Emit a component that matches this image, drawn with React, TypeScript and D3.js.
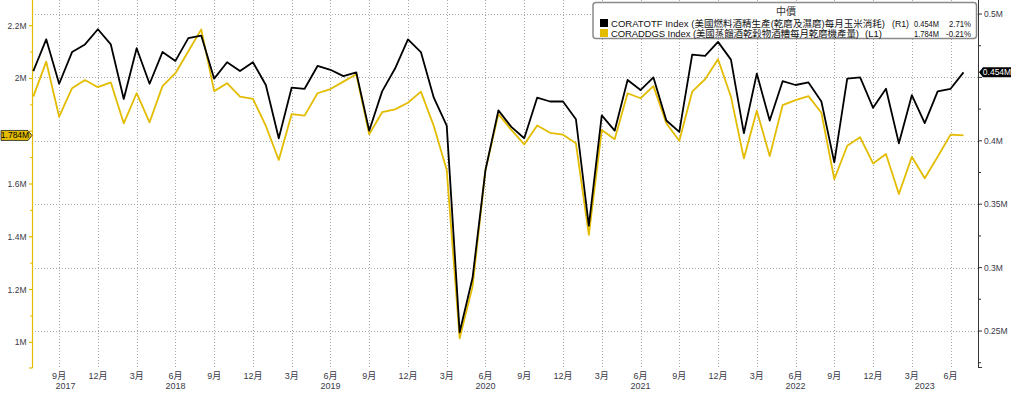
import React from "react";
import * as d3 from "d3";

// monthly, Jul 2017 .. Jul 2023
const startYear = 2017;
const startMonth = 6; // July (0-based)

// CORATOTF Index, right axis (millions)
const cornUse = [
  0.455, 0.480, 0.445, 0.470, 0.476, 0.488, 0.476, 0.433, 0.473, 0.445, 0.470, 0.463,
  0.481, 0.483, 0.449, 0.462, 0.455, 0.462, 0.444, 0.402, 0.442, 0.441, 0.459, 0.456,
  0.451, 0.454, 0.408, 0.439, 0.457, 0.480, 0.470, 0.434, 0.412, 0.249, 0.292, 0.377,
  0.424, 0.411, 0.402, 0.434, 0.431, 0.431, 0.417, 0.333, 0.420, 0.408, 0.448, 0.440,
  0.450, 0.416, 0.407, 0.468, 0.467, 0.478, 0.464, 0.406, 0.453, 0.416, 0.447, 0.444,
  0.446, 0.431, 0.383, 0.449, 0.450, 0.426, 0.441, 0.398, 0.436, 0.414, 0.439, 0.441,
  0.454,
];

// CORADDGS Index, left axis (millions)
const ddgs = [
  1.931, 2.064, 1.855, 1.963, 1.994, 1.967, 1.985, 1.830, 1.944, 1.834, 1.971, 2.020,
  2.103, 2.186, 1.952, 1.982, 1.931, 1.923, 1.820, 1.691, 1.865, 1.859, 1.944, 1.960,
  1.988, 2.016, 1.788, 1.872, 1.883, 1.908, 1.950, 1.820, 1.653, 1.015, 1.211, 1.653,
  1.865, 1.805, 1.750, 1.822, 1.794, 1.787, 1.754, 1.407, 1.805, 1.770, 1.944, 1.925,
  1.971, 1.830, 1.764, 1.950, 1.997, 2.073, 1.931, 1.697, 1.878, 1.706, 1.899, 1.918,
  1.933, 1.870, 1.618, 1.745, 1.777, 1.678, 1.714, 1.562, 1.703, 1.622, 1.703, 1.787,
  1.784,
];

const leftTicks = [1, 1.2, 1.4, 1.6, 1.8, 2, 2.2];
const leftMinor = [1.1, 1.3, 1.5, 1.7, 1.9, 2.1];
const rightTicks = [0.25, 0.3, 0.35, 0.4, 0.45, 0.5];
const rightMinor = [0.225, 0.275, 0.325, 0.375, 0.425, 0.475];
const tickMonths = [2, 5, 8, 11]; // Mar, Jun, Sep, Dec
const years = [2017, 2018, 2019, 2020, 2021, 2022, 2023];

const legendTitle = "中價";
const legendNames = [
  "CORATOTF Index (美國燃料酒精生產(乾磨及濕磨)每月玉米消耗)",
  "CORADDGS Index (美國蒸餾酒乾穀物酒糟每月乾磨機產量)",
];
const legendAxis = ["(R1)", "(L1)"];
const legendLast = ["0.454M", "1.784M"];
const legendChg = ["2.71%", "-0.21%"];

const YELLOW = "#e3bc00";
const FONT = "'Liberation Sans', 'Noto Sans CJK TC', sans-serif";

export default function App() {
  const width = 1011;
  const height = 393;
  const plotTop = 0;
  const plotBottom = 368;
  const leftX = 32;
  const rightX = 978;

  const n = cornUse.length;
  const x = d3.scaleLinear().domain([0, n - 1]).range([33.3, 963.5]);
  const yL = d3.scaleLinear().domain([1, 2.2]).range([342.3, 25.7]);
  const yR = d3.scaleLinear().domain([0.25, 0.5]).range([331, 14]);

  const lineL = d3.line<number>().x((_, i) => x(i)).y((d) => yL(d));
  const lineR = d3.line<number>().x((_, i) => x(i)).y((d) => yR(d));

  const monthOf = (i: number) => (startMonth + i) % 12;
  const yearOf = (i: number) => startYear + Math.floor((startMonth + i) / 12);
  const idx = d3.range(n);
  const ticks = idx.filter((i) => tickMonths.includes(monthOf(i)));

  const yearPos = years.map((yr) => {
    const inYear = idx.filter((i) => yearOf(i) === yr);
    const first = inYear[0];
    const last = inYear[inYear.length - 1];
    const pos = inYear.length === 12 ? first + 5 : (first + last) / 2;
    return { yr, pos };
  });

  const fmtL = (v: number) => (v === 1 || v === 2 ? `${v}M` : `${v.toFixed(1)}M`);
  const fmtR = (v: number) => `${+v.toFixed(2)}M`;

  const lastL = ddgs[n - 1];
  const lastR = cornUse[n - 1];
  const tagLy = yL(lastL);
  const tagRy = yR(lastR);

  // legend name widths / axis-tag positions
  const nameLen = [274, 248];
  const axisX = [892, 865];

  return (
    <svg width={width} height={height} style={{ position: "absolute", left: 0, top: 0 }} fontFamily={FONT}>
      <rect width={width} height={height} fill="#fff" />

      {/* grid */}
      <g stroke="#a8a8a8" strokeWidth={1} strokeDasharray="1,2">
        {ticks.map((i) => (
          <line key={"v" + i} x1={Math.round(x(i)) + 0.5} x2={Math.round(x(i)) + 0.5} y1={plotTop} y2={plotBottom} />
        ))}
        {rightTicks.map((t) => (
          <line key={"h" + t} x1={leftX} x2={rightX} y1={Math.round(yR(t)) + 0.5} y2={Math.round(yR(t)) + 0.5} />
        ))}
      </g>

      {/* left axis */}
      <g>
        <line x1={leftX + 0.5} x2={leftX + 0.5} y1={plotTop} y2={plotBottom} stroke={YELLOW} strokeWidth={1.2} />
        <line x1={leftX - 3} x2={leftX + 0.5} y1={plotBottom} y2={plotBottom} stroke={YELLOW} strokeWidth={1.2} />
        {leftTicks.map((t) => (
          <g key={t}>
            <line x1={leftX - 3} x2={leftX} y1={yL(t)} y2={yL(t)} stroke={YELLOW} strokeWidth={1.2} />
            {Math.abs(yL(t) - tagLy) > 8 && (
              <text x={26.5} y={yL(t) + 3} textAnchor="end" fontSize={8.5} fill="#3a3a48">
                {fmtL(t)}
              </text>
            )}
          </g>
        ))}
        {leftMinor.map((t) => (
          <line key={t} x1={leftX - 2} x2={leftX} y1={yL(t)} y2={yL(t)} stroke={YELLOW} strokeWidth={1} />
        ))}
      </g>

      {/* right axis */}
      <g>
        <line x1={rightX + 0.5} x2={rightX + 0.5} y1={plotTop} y2={plotBottom} stroke="#333" strokeWidth={1} />
        <line x1={rightX} x2={rightX + 4} y1={plotBottom - 0.5} y2={plotBottom - 0.5} stroke="#333" strokeWidth={1} />
        {rightTicks.map((t) => (
          <g key={t}>
            <line x1={rightX} x2={rightX + 4} y1={yR(t)} y2={yR(t)} stroke="#333" strokeWidth={1} />
            {Math.abs(yR(t) - tagRy) > 8 && (
              <text x={984} y={yR(t) + 3} fontSize={8.5} fill="#3a3a48">
                {fmtR(t)}
              </text>
            )}
          </g>
        ))}
        {rightMinor.map((t) => (
          <line key={t} x1={rightX} x2={rightX + 3} y1={yR(t)} y2={yR(t)} stroke="#333" strokeWidth={1} />
        ))}
      </g>

      {/* x labels */}
      <g fontSize={9} fill="#3a3a48" textAnchor="middle">
        {ticks.map((i) => (
          <text key={"m" + i} x={x(i)} y={379}>
            {monthOf(i) + 1}月
          </text>
        ))}
        {yearPos.map((d) => (
          <text key={d.yr} x={x(d.pos)} y={389}>
            {d.yr}
          </text>
        ))}
      </g>

      {/* series */}
      <path d={lineL(ddgs) ?? ""} fill="none" stroke={YELLOW} strokeWidth={1.8} strokeLinejoin="round" />
      <path d={lineR(cornUse) ?? ""} fill="none" stroke="#000" strokeWidth={1.8} strokeLinejoin="round" />

      {/* last value tags */}
      <g>
        <path
          d={`M1,${tagLy - 5} L28,${tagLy - 5} L32,${tagLy} L28,${tagLy + 5} L1,${tagLy + 5} Z`}
          fill={YELLOW}
          stroke="#222"
          strokeWidth={0.8}
        />
        <text x={15} y={tagLy + 3} textAnchor="middle" fontSize={8.5} fill="#000">
          {lastL.toFixed(3)}M
        </text>
        <path
          d={`M979,${tagRy} L983,${tagRy - 5} L1011,${tagRy - 5} L1011,${tagRy + 5} L983,${tagRy + 5} Z`}
          fill="#000"
        />
        <text x={997} y={tagRy + 3} textAnchor="middle" fontSize={8.5} fill="#fff">
          {lastR.toFixed(3)}M
        </text>
      </g>

      {/* legend */}
      <g>
        <rect x={593} y={2.5} width={383.5} height={36} rx={3} fill="#fff" stroke="#8a8a8a" strokeWidth={1.5} />
        <text x={786} y={15} textAnchor="middle" fontSize={10} fill="#333">
          {legendTitle}
        </text>
        {legendNames.map((name, k) => (
          <g key={name} fontSize={9.5} fill="#111">
            <rect x={600} y={19 + k * 10} width={8} height={8} fill={k === 0 ? "#000" : YELLOW} />
            <text x={611} y={26.5 + k * 10} textLength={nameLen[k]} lengthAdjust="spacing">
              {name}
            </text>
            <text x={axisX[k]} y={26.5 + k * 10} fontSize={9} textLength={17} lengthAdjust="spacingAndGlyphs">
              {legendAxis[k]}
            </text>
            <text x={914} y={26.5 + k * 10} fontSize={9} textLength={25} lengthAdjust="spacingAndGlyphs">
              {legendLast[k]}
            </text>
            <text
              x={971 - (k === 0 ? 22 : 25)}
              y={26.5 + k * 10}
              fontSize={9}
              textLength={k === 0 ? 22 : 25}
              lengthAdjust="spacingAndGlyphs"
            >
              {legendChg[k]}
            </text>
          </g>
        ))}
      </g>
    </svg>
  );
}
